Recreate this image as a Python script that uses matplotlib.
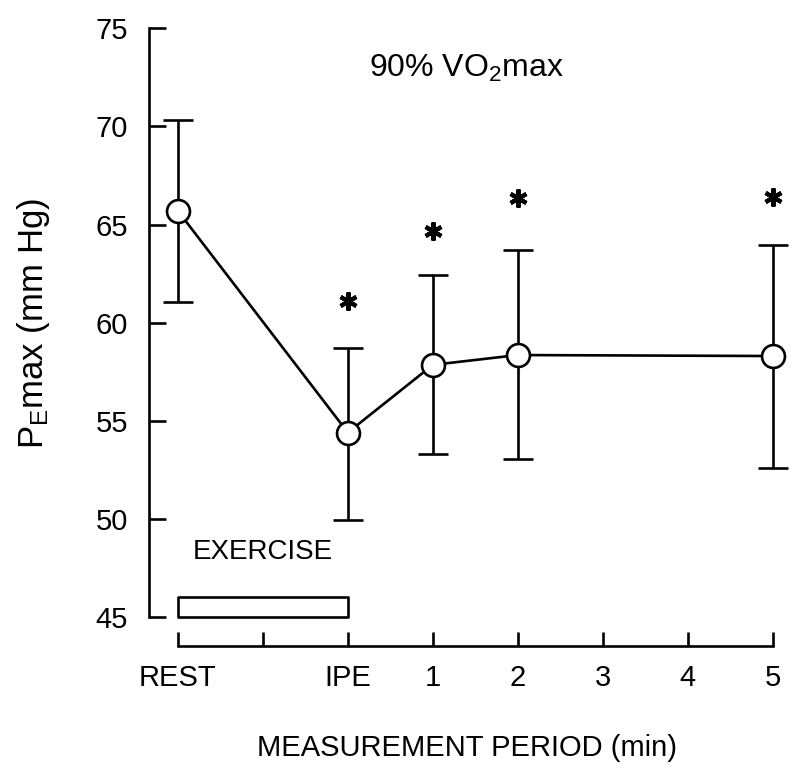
import matplotlib.pyplot as plt

plt.rcParams['font.family'] = ['Liberation Sans', 'DejaVu Sans']
plt.rcParams['mathtext.fontset'] = 'custom'
plt.rcParams['mathtext.rm'] = 'Liberation Sans'
plt.rcParams['mathtext.it'] = 'Liberation Sans'

# measurement periods (evenly spaced slots on the x axis)
tick_labels = ['REST', '', 'IPE', '1', '2', '3', '4', '5']
point_slots = [0, 2, 3, 4, 7]
pe_max = [65.7, 54.4, 57.85, 58.35, 58.3]
err_upper = [70.35, 58.7, 62.45, 63.7, 63.95]
err_lower = [61.05, 49.95, 53.3, 53.05, 52.6]
star_slots = [2, 3, 4, 7]
star_y = [61.1, 64.65, 66.35, 66.4]
exercise_start, exercise_len = 0, 2

lw = 1.9

fig = plt.figure(figsize=(7.92, 7.71), dpi=100)
ax = fig.add_axes([0.188, 0.1997, 0.804, 0.7636])

yerr = [[m - lo for m, lo in zip(pe_max, err_lower)],
        [hi - m for m, hi in zip(pe_max, err_upper)]]
ax.errorbar(point_slots, pe_max, yerr=yerr, color='black', lw=lw,
            elinewidth=lw, capsize=11, capthick=lw, marker='o', ms=16.5,
            mfc='white', mec='black', mew=lw, zorder=3, clip_on=False)
ax.plot(star_slots, star_y, ls='none', marker=(6, 2, 0), ms=13, mew=3,
        color='black', clip_on=False)

ax.broken_barh([(exercise_start, exercise_len)], (45, 1), facecolors='white',
               edgecolors='black', linewidth=lw, clip_on=False)
ax.text(1, 48.3, 'EXERCISE', ha='center', va='center', fontsize=20)
ax.text(2.25, 72.95, r'90% VO$_2$max', ha='left', va='center', fontsize=23)

ax.set_xlim(-0.34, 7.15)
ax.set_ylim(45, 75)
ax.set_xticks(range(len(tick_labels)))
ax.set_xticklabels(tick_labels)
ax.set_yticks(range(45, 76, 5))

for s in ['top', 'right']:
    ax.spines[s].set_visible(False)
ax.spines['left'].set_bounds(45, 75)
ax.spines['bottom'].set_bounds(0, 7)
ax.spines['bottom'].set_position(('outward', 21))
for s in ['left', 'bottom']:
    ax.spines[s].set_linewidth(lw)

ax.tick_params(axis='y', direction='in', length=12, width=lw, pad=15,
               labelsize=21)
ax.tick_params(axis='x', direction='in', length=10, width=lw, pad=13,
               labelsize=21)

ax.set_ylabel(r'P$_\mathrm{E}$max (mm Hg)', fontsize=25)
ax.yaxis.set_label_coords(-0.152, 0.498)
ax.set_xlabel('MEASUREMENT PERIOD (min)', fontsize=21)
ax.xaxis.set_label_coords(0.5, -0.198)

fig.savefig('out.png', dpi=100)
